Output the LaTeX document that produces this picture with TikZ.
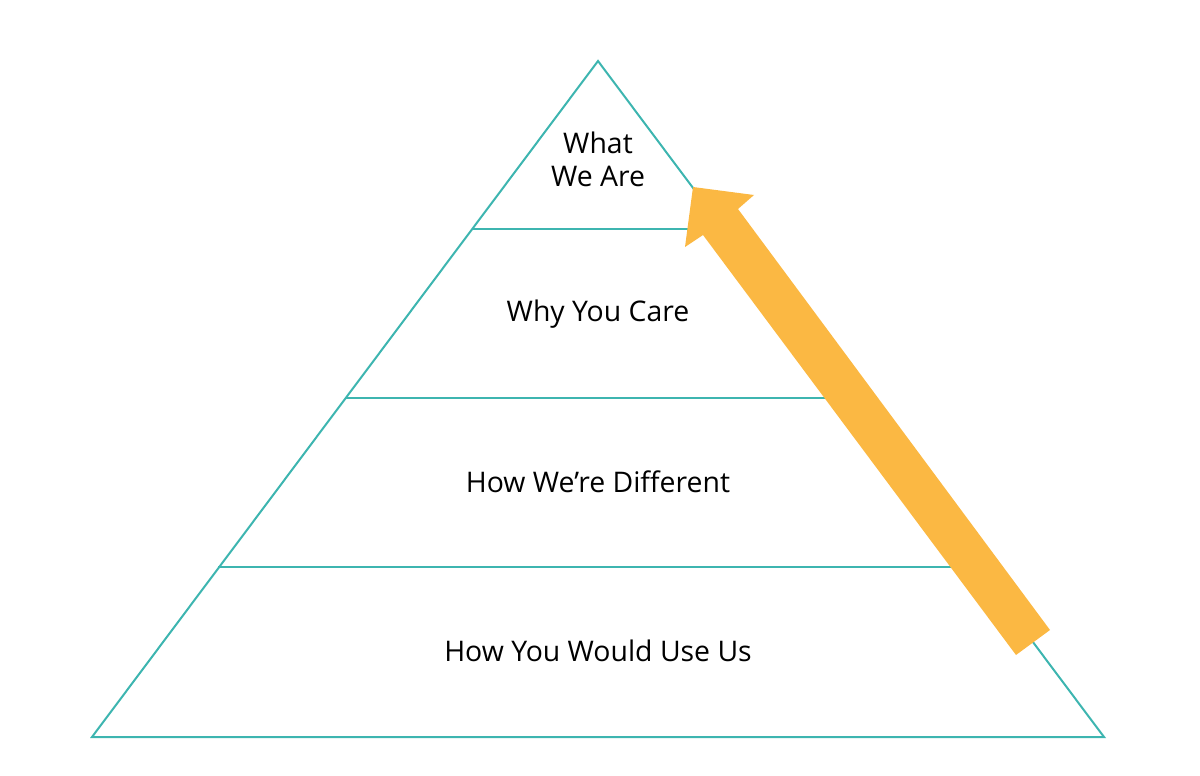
\documentclass[tikz,border=0pt]{standalone}
\usepackage{fontspec}
\setmainfont{Open Sans}
\definecolor{teal2}{HTML}{3DB5B0}
\definecolor{orng}{HTML}{FBB843}
\begin{document}
\begin{tikzpicture}[x=1pt,y=-1pt,
  tier/.style={draw=teal2,line width=2pt},
  lbl/.style={font=\fontsize{28.4}{33.5}\selectfont,text=black,align=center,inner sep=0pt}]
\useasboundingbox (0,0) rectangle (1200,776);
\coordinate (apex) at (598,61);
\coordinate (bl) at (92,737);
\coordinate (br) at (1104,737);
\draw[tier,line join=miter] (apex) -- (bl) -- (br) -- cycle;
\draw[tier] (472,229) -- (723,229);
\draw[tier] (345,398) -- (851,398);
\draw[tier] (218,567) -- (978,567);
\node[lbl] (t1) at (598,159.5) {What\\We Are};
\node[lbl] (t2) at (598,314) {Why You Care};
\node[lbl] (t3) at (598,482) {How We’re Different};
\node[lbl] (t4) at (598,651) {How You Would Use Us};
\fill[orng] (1050,630) -- (1016,655) -- (703,235) -- (685,247) -- (693,187) -- (754,195) -- (738,209) -- cycle;
\end{tikzpicture}
\end{document}
